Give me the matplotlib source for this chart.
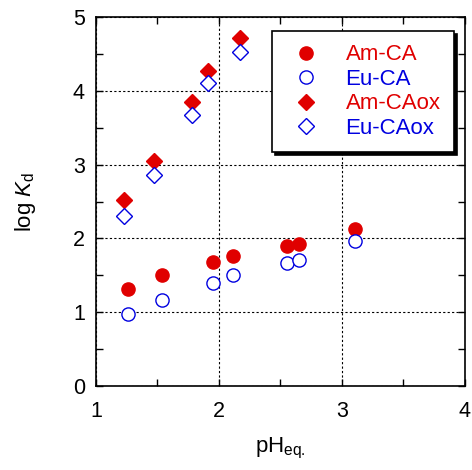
import matplotlib
matplotlib.use('Agg')
import matplotlib.pyplot as plt
from matplotlib.ticker import MultipleLocator

plt.rcParams['font.family'] = ['Liberation Sans', 'DejaVu Sans']
plt.rcParams['mathtext.fontset'] = 'custom'
plt.rcParams['mathtext.rm'] = 'Liberation Sans'
plt.rcParams['mathtext.it'] = 'Liberation Sans:italic'

# data
ph_ca = [1.26, 1.54, 1.95, 2.11, 2.55, 2.65, 3.11]
am_ca = [1.31, 1.50, 1.68, 1.76, 1.90, 1.92, 2.13]
eu_ca = [0.97, 1.16, 1.39, 1.51, 1.67, 1.71, 1.96]

ph_ox = [1.23, 1.47, 1.78, 1.91, 2.17]
am_ox = [2.52, 3.05, 3.85, 4.27, 4.72]
eu_ox = [2.31, 2.86, 3.67, 4.11, 4.53]

red = '#e00000'
blue = '#0000e0'

fig = plt.figure(figsize=(4.72, 4.70), dpi=100)
ax = fig.add_axes([0.2034, 0.1787, 0.7816, 0.7851])

ax.plot(ph_ca, am_ca, 'o', ms=9.5, color=red, mec=red, label='Am-CA', zorder=3)
ax.plot(ph_ca, eu_ca, 'o', ms=9.5, mfc='white', mec=blue, mew=1.0, label='Eu-CA', zorder=3)
ax.plot(ph_ox, am_ox, 'D', ms=8.5, color=red, mec=red, label='Am-CAox', zorder=3)
ax.plot(ph_ox, eu_ox, 'D', ms=8.5, mfc='white', mec=blue, mew=1.0, label='Eu-CAox', zorder=3)

ax.set_xlim(1, 4)
ax.set_ylim(0, 5)
ax.xaxis.set_major_locator(MultipleLocator(1))
ax.xaxis.set_minor_locator(MultipleLocator(0.5))
ax.yaxis.set_major_locator(MultipleLocator(1))
ax.yaxis.set_minor_locator(MultipleLocator(0.5))
ax.tick_params(which='both', direction='in', top=True, right=True, width=1.0)
ax.tick_params(which='major', length=5, labelsize=15.5)
ax.tick_params(which='minor', length=5)
ax.tick_params(axis='x', pad=11)
ax.tick_params(axis='y', pad=8)
ax.grid(True, which='major', color='black', ls=(0, (2, 2)), lw=0.8)
for s in ax.spines.values():
    s.set_linewidth(1.2)

ax.set_xlabel(r'pH$_{\rm eq.}$', fontsize=16, labelpad=10)
ax.set_ylabel(r'log $K_{\rm d}$', fontsize=16, labelpad=25)

leg = ax.legend(loc='upper right', bbox_to_anchor=(0.970, 0.962), borderaxespad=0,
                fontsize=16, frameon=True, fancybox=False,
                shadow={'color': 'black', 'alpha': 1},
                edgecolor='black', handletextpad=0.9, labelspacing=0.16,
                borderpad=0.6, handlelength=1.8, numpoints=1)
leg.get_frame().set_linewidth(1.2)
for txt, c in zip(leg.get_texts(), [red, blue, red, blue]):
    txt.set_color(c)

fig.savefig('out.png', dpi=100)
